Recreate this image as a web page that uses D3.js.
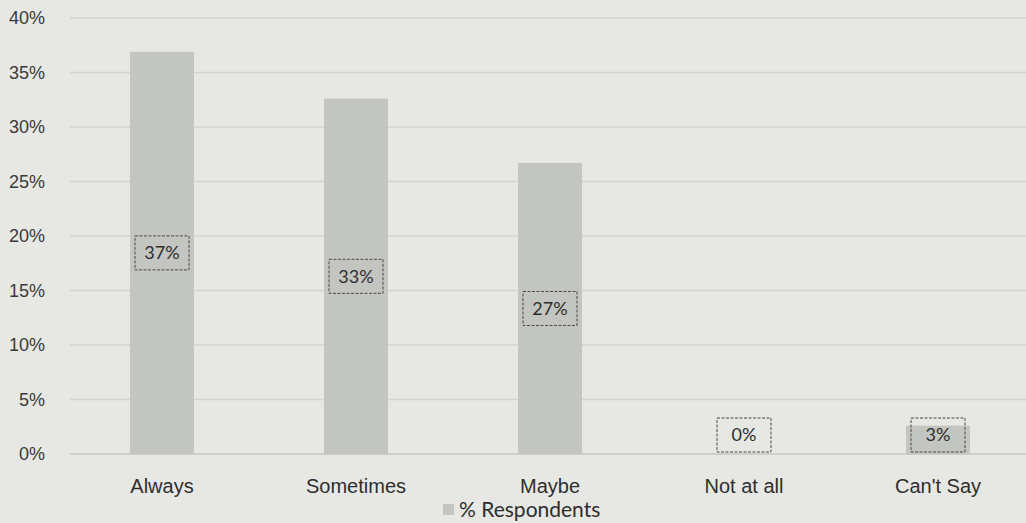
<!DOCTYPE html>
<html>
<head>
<meta charset="utf-8">
<script src="https://cdn.jsdelivr.net/npm/d3@7"></script>
<style>
  body { margin: 0; background: #e7e8e4; }
  svg { display: block; font-family: Lato, "Open Sans", sans-serif; }
</style>
</head>
<body>
<div class="barChart"></div>
<script>
var categories = ["Always", "Sometimes", "Maybe", "Not at all", "Can't Say"];
var respondents = [0.369, 0.326, 0.267, 0, 0.026];
var yTicks = [0, 0.05, 0.10, 0.15, 0.20, 0.25, 0.30, 0.35, 0.40];
var seriesName = "% Respondents";

var width = 1026, height = 523;

var svg = d3.select('.barChart')
            .append('svg')
            .attr('width', width)
            .attr('height', height);

svg.append('rect')
   .attr('width', width)
   .attr('height', height)
   .attr('fill', '#e7e8e4');

// Scale
var xscale = d3.scaleBand()
               .domain(categories)
               .range([65, 1035])
               .paddingInner(0.67)
               .paddingOuter(0.335);

var yscale = d3.scaleLinear()
               .domain([0, 0.40])
               .range([454, 18]);

var fmt = d3.format('.0%');

// gridlines
svg.append('g')
   .selectAll('line')
   .data(yTicks)
   .enter().append('line')
   .attr('x1', 70)
   .attr('x2', width)
   .attr('y1', function(d){ return yscale(d); })
   .attr('y2', function(d){ return yscale(d); })
   .attr('stroke', function(d){ return d === 0 ? '#c6c7c3' : '#d3d4d0'; })
   .attr('stroke-width', 1.3);

// y axis
var y_axis = d3.axisLeft()
               .scale(yscale)
               .tickValues(yTicks)
               .tickFormat(fmt)
               .tickSize(0)
               .tickPadding(0);

svg.append('g')
   .attr('id', 'y-axis')
   .attr('transform', 'translate(45, 0)')
   .call(y_axis)
   .call(function(g){ g.select('.domain').remove(); })
   .selectAll('text')
   .attr('font-size', 18)
   .attr('fill', '#3a3a3a');

// x axis
var x_axis = d3.axisBottom()
               .scale(xscale)
               .tickSize(0)
               .tickPadding(25);

svg.append('g')
   .attr('id', 'x-axis')
   .attr('transform', 'translate(0, 454)')
   .call(x_axis)
   .call(function(g){ g.select('.domain').remove(); })
   .selectAll('text')
   .attr('font-size', 20)
   .attr('fill', '#2e2e2e');

// bars
svg.append('g')
   .selectAll('rect')
   .data(respondents)
   .enter().append('rect')
   .attr('x', function(d, i){ return xscale(categories[i]); })
   .attr('y', function(d){ return yscale(d); })
   .attr('width', xscale.bandwidth())
   .attr('height', function(d){ return yscale(0) - yscale(d); })
   .attr('fill', '#c3c5c1');

// data labels
var labels = svg.append('g')
   .selectAll('g')
   .data(respondents)
   .enter().append('g')
   .attr('transform', function(d, i){
       var cx = xscale(categories[i]) + xscale.bandwidth() / 2;
       var cy = Math.min((yscale(d) + yscale(0)) / 2, yscale(0) - 19);
       return 'translate(' + cx + ',' + cy + ')';
   });

labels.append('rect')
   .attr('x', -27)
   .attr('y', -17)
   .attr('width', 54)
   .attr('height', 34)
   .attr('fill', 'none')
   .attr('stroke', '#4a4a4a')
   .attr('stroke-width', 1)
   .attr('stroke-dasharray', '3,1.5');

labels.append('text')
   .attr('text-anchor', 'middle')
   .attr('dy', '0.35em')
   .attr('font-size', 18)
   .attr('fill', '#2e2e2e')
   .text(function(d){ return fmt(d); });

// legend
var legend = svg.append('g')
   .attr('transform', 'translate(443, 510)');

legend.append('rect')
   .attr('x', 0)
   .attr('y', -6)
   .attr('width', 11)
   .attr('height', 11)
   .attr('fill', '#c3c5c1');

legend.append('text')
   .attr('x', 16)
   .attr('dy', '0.35em')
   .attr('font-size', 21)
   .attr('fill', '#2e2e2e')
   .text(seriesName);
</script>
</body>
</html>
